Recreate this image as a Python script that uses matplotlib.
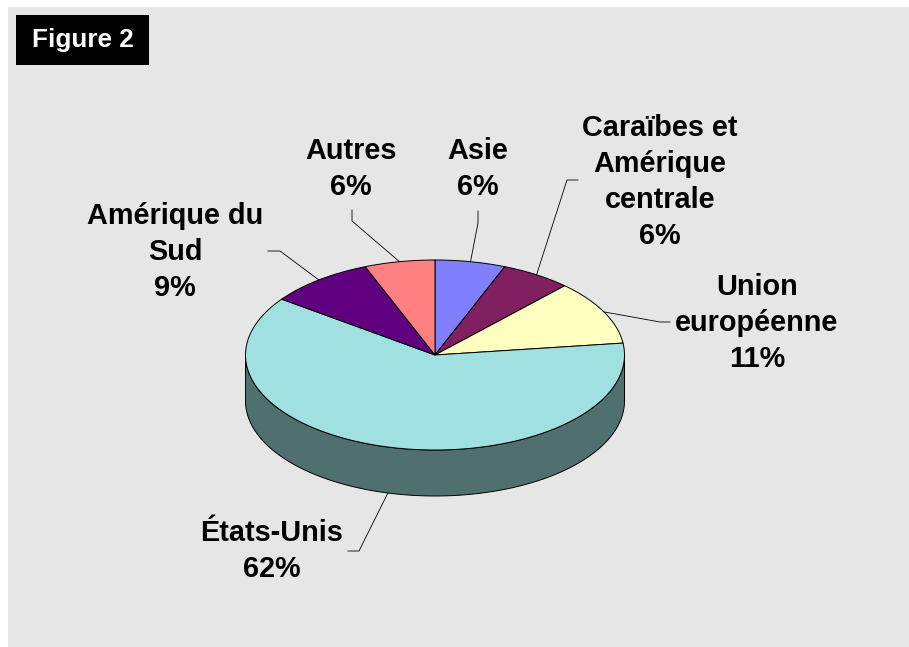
import matplotlib
matplotlib.use("Agg")
import matplotlib.pyplot as plt
from matplotlib.patches import Polygon, Rectangle
from matplotlib.colors import to_rgb
import numpy as np

# data, clockwise from 12 o'clock
regions = ["Asie", "Caraïbes et\nAmérique\ncentrale", "Union\neuropéenne",
           "États-Unis", "Amérique du\nSud", "Autres"]
shares = [6, 6, 11, 62, 9, 6]
colors = ["#8080ff", "#802060", "#ffffc0", "#a0e0e0", "#600080", "#ff8080"]

# layout (pixel coords, y down)
W, H = 909, 647
cx, cy = 435, 355
rx, ry = 189.5, 95
depth = 46
# text centre, elbow of the leader, end of the short horizontal tick
label_pos = [(478, 169), (660, 182), (757, 323), (272, 551), (175, 252), (351, 169)]
elbows = [(478, 223), (567, 180), (660, 322), (359, 551), (280, 251), (352, 221)]
ticks = [(478, 211), (578, 180), (670, 322), (348, 551), (268, 251), (352, 210)]

plt.rcParams["font.family"] = ["Liberation Sans", "DejaVu Sans"]

fig = plt.figure(figsize=(W / 100, H / 100), dpi=100)
ax = fig.add_axes([0, 0, 1, 1])
ax.set_xlim(0, W)
ax.set_ylim(H, 0)
ax.axis("off")

ax.add_patch(Rectangle((8, 7), W - 8, H - 7, facecolor="#e6e6e6", edgecolor="none"))
ax.add_patch(Rectangle((16, 15), 133, 50, facecolor="black", edgecolor="none"))
ax.text(82.5, 40, "Figure 2", color="white", fontsize=18.8, fontweight="bold",
        ha="center", va="center")


def arc(t1, t2, dy=0, n=120):
    t = np.radians(np.linspace(t1, t2, n))
    return np.column_stack([cx + rx * np.cos(t), cy - ry * np.sin(t) + dy])


# slice angles (math degrees), going clockwise
total = float(sum(shares))
starts, ends = [], []
a = 90.0
for s in shares:
    starts.append(a)
    a -= 360.0 * s / total
    ends.append(a)


def shade(c, f=0.5):
    r, g, b = to_rgb(c)
    return (r * f, g * f, b * f)


# side walls: only the front half (180..360) is visible
for t1, t2, c in zip(starts, ends, colors):
    for k in (0, -360, 360):
        lo = max(min(t1, t2) + k, 180)
        hi = min(max(t1, t2) + k, 360)
        if hi > lo:
            top = arc(lo, hi)
            bot = arc(hi, lo, dy=depth)
            ax.add_patch(Polygon(np.vstack([top, bot]), closed=True,
                                 facecolor=shade(c), edgecolor="black", lw=0.7))

# top faces
for t1, t2, c in zip(starts, ends, colors):
    pts = np.vstack([[cx, cy], arc(t1, t2)])
    ax.add_patch(Polygon(pts, closed=True, facecolor=c, edgecolor="black",
                         lw=0.7, joinstyle="round"))

# labels and leader lines
for name, s, t1, t2, pos, el, tk in zip(regions, shares, starts, ends,
                                         label_pos, elbows, ticks):
    mid = np.radians((t1 + t2) / 2)
    px = cx + rx * np.cos(mid)
    py = cy - ry * np.sin(mid)
    if np.sin(mid) < 0:
        py += depth
    ax.plot([px, el[0], tk[0]], [py, el[1], tk[1]], color="black", lw=0.6)
    ax.text(pos[0], pos[1], f"{name}\n{s}%", fontsize=20.8, fontweight="bold",
            ha="center", va="center", multialignment="center", linespacing=1.36)

fig.savefig("out.png", dpi=100)
